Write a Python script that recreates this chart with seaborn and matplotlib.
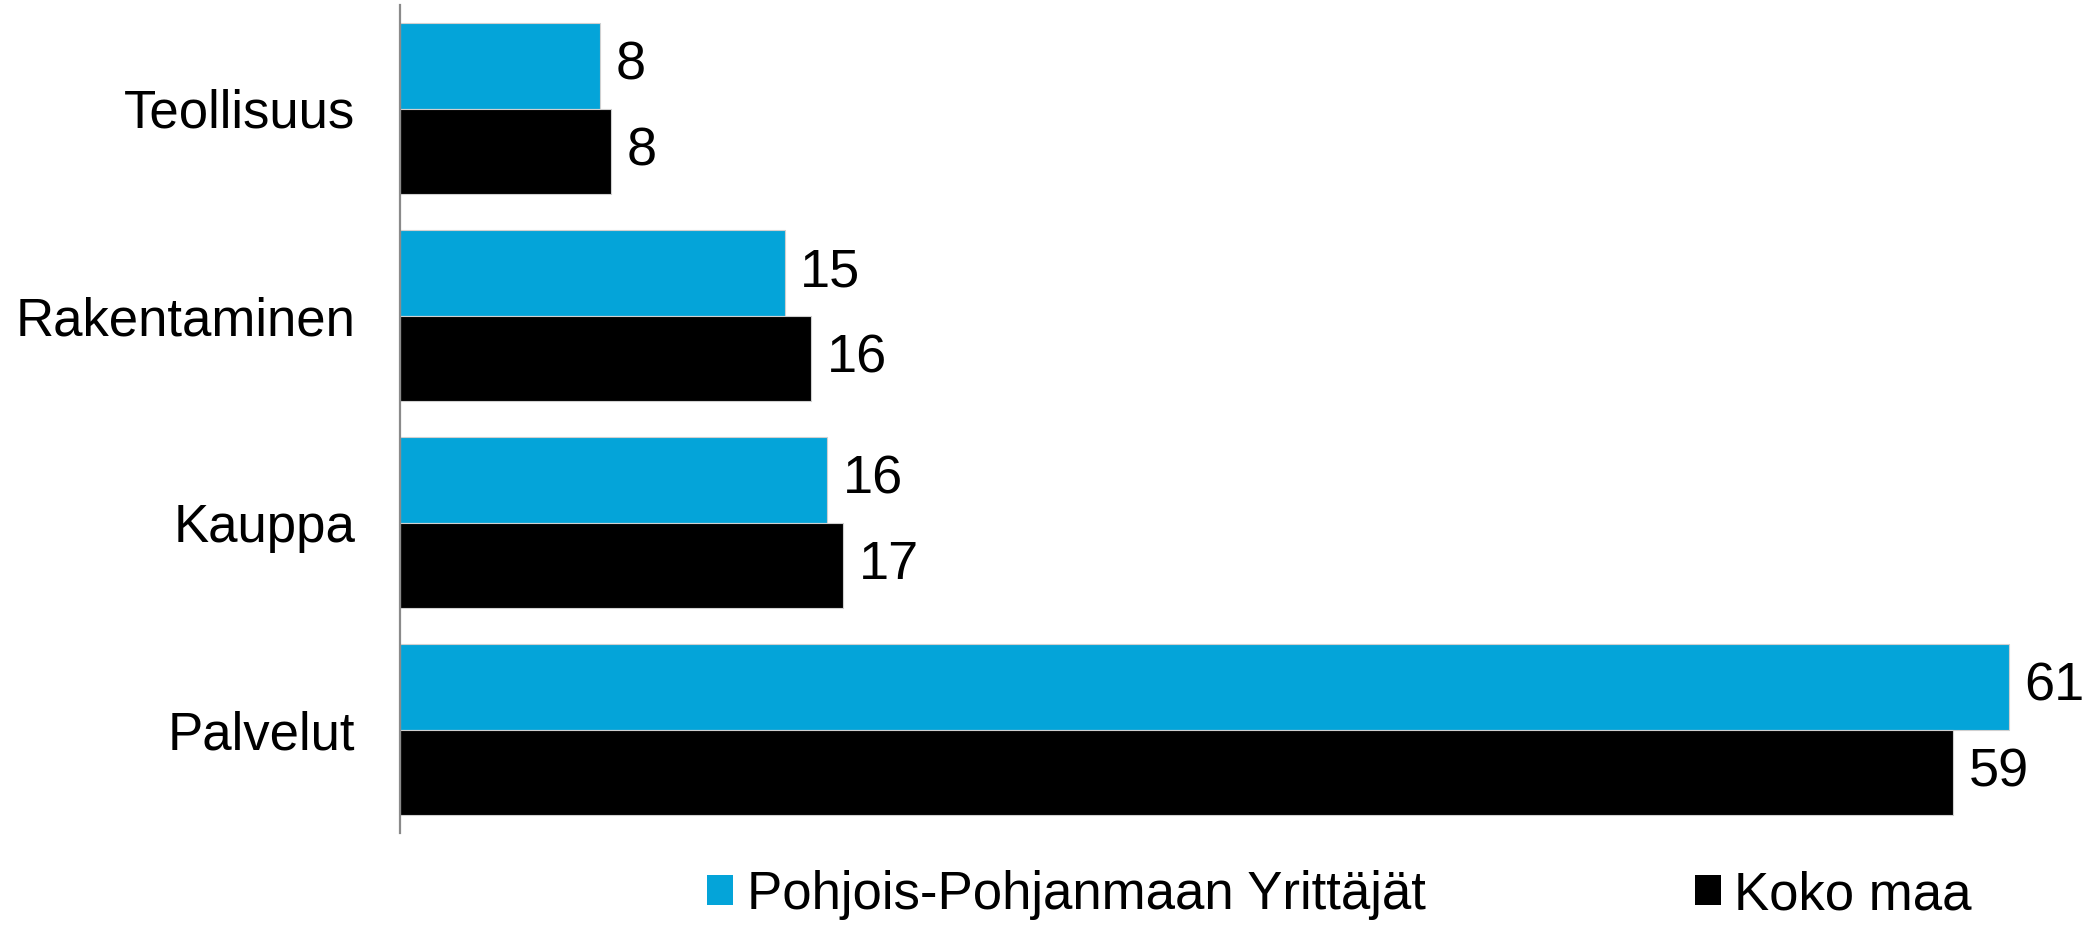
import matplotlib
matplotlib.use("Agg")
import matplotlib.pyplot as plt
import seaborn as sns
import pandas as pd
from matplotlib.patches import Patch

categories = ["Teollisuus", "Rakentaminen", "Kauppa", "Palvelut"]
series_names = ["Pohjois-Pohjanmaan Yrittäjät", "Koko maa"]
pohjois_values = [7.6, 14.6, 16.2, 61.0]
koko_values = [8.0, 15.6, 16.8, 58.9]
colors = ["#04A4D9", "#000000"]

sns.set_theme(style="white")
plt.rcParams["font.family"] = ["Liberation Sans", "DejaVu Sans"]

df = pd.DataFrame({
    "Toimiala": categories * 2,
    "Sarja": [series_names[0]] * 4 + [series_names[1]] * 4,
    "Arvo": pohjois_values + koko_values,
})

fig = plt.figure(figsize=(20.92, 9.26), dpi=100)
ax = fig.add_axes([400 / 2092, 1 - 833 / 926, 1688 / 2092, 828 / 926])

sns.barplot(data=df, y="Toimiala", x="Arvo", hue="Sarja", orient="h",
            palette=colors, saturation=1, width=0.83, gap=0, errorbar=None,
            edgecolor="#d0d0d0", linewidth=0.8, ax=ax, legend=False)

for cont in ax.containers:
    ax.bar_label(cont, labels=[f"{v:.0f}" for v in cont.datavalues],
                 padding=11, fontsize=39, color="black")

ax.set_xlim(0, 64)
ax.set_ylim(3.5, -0.5)
ax.set_xlabel("")
ax.set_ylabel("")
ax.set_xticks([])
ax.tick_params(axis="y", length=0, pad=32, labelsize=38, labelcolor="black")
for s in ["top", "right", "bottom"]:
    ax.spines[s].set_visible(False)
ax.spines["left"].set_color("#8a8a8a")
ax.spines["left"].set_linewidth(1.6)

handles = [Patch(facecolor=c, edgecolor="none") for c in colors]
fig.legend(handles, series_names, loc="center left",
           bbox_to_anchor=(707 / 2092, 1 - 895 / 926), ncol=2, frameon=False,
           fontsize=38, labelcolor="black", handlelength=0.5, handleheight=0.5,
           handletextpad=0.25, columnspacing=5.1, borderpad=0, borderaxespad=0)

fig.savefig("out.png", dpi=100)
